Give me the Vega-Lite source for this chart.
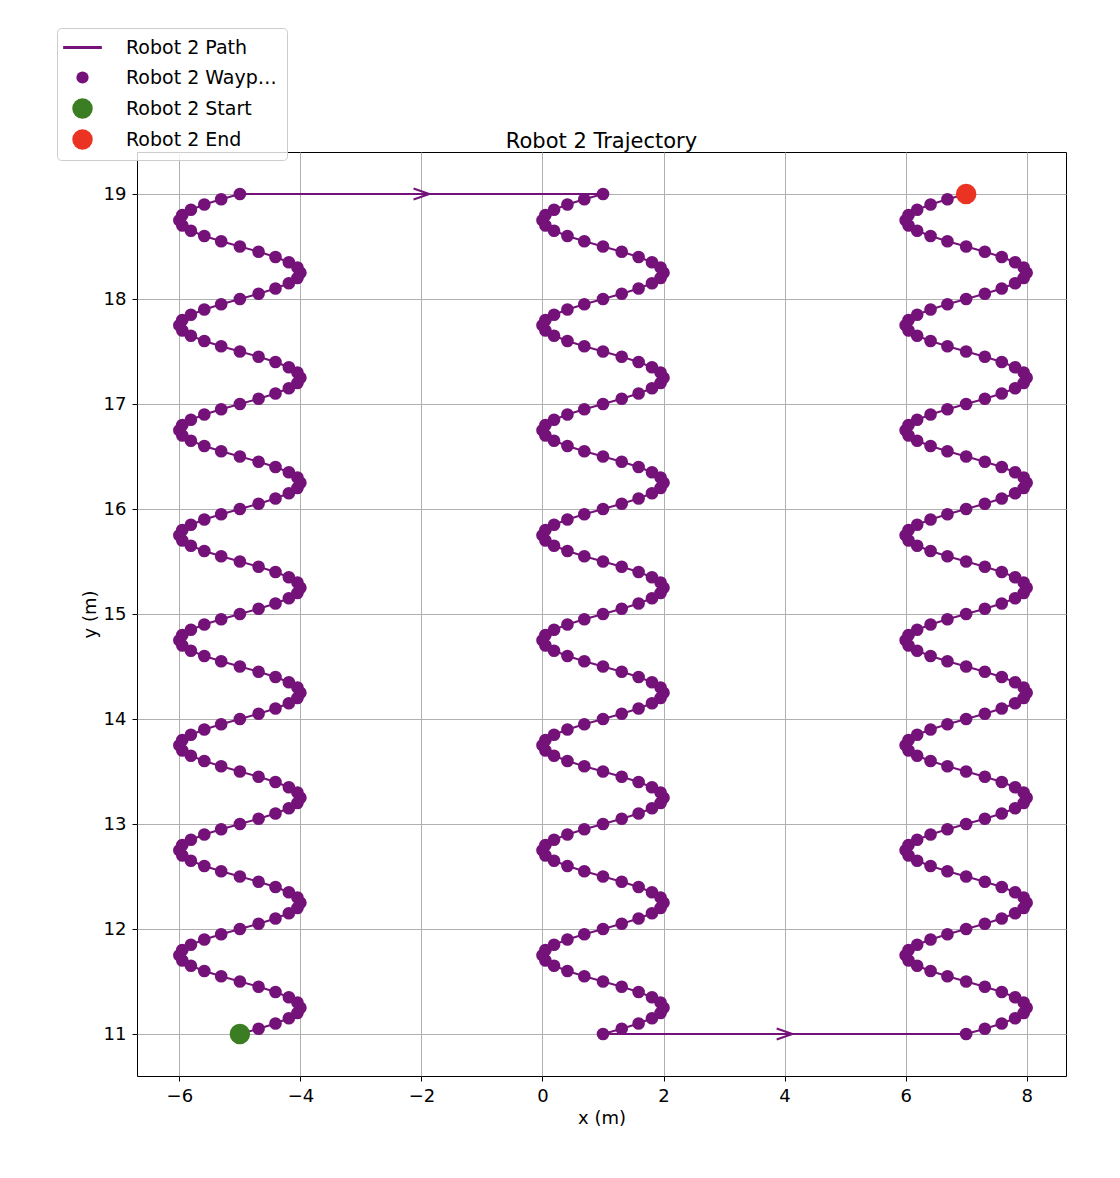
{
  "$schema": "https://vega.github.io/schema/vega-lite/v6.json",
  "width": 929,
  "height": 924,
  "autosize": "none",
  "padding": {"left": 137, "top": 152, "right": 54, "bottom": 102},
  "background": "white",
  "config": {
    "font": "DejaVu Sans",
    "view": {"stroke": "black", "strokeWidth": 1},
    "axis": {"labelFontSize": 18, "titleFontSize": 18, "labelColor": "black", "titleColor": "black", "titleFontWeight": "normal", "gridColor": "#b0b0b0", "gridWidth": 1, "tickColor": "black", "domain": false, "labelPadding": 6}
  },
  "title": {"text": "Robot 2 Trajectory", "fontSize": 21, "fontWeight": "normal", "color": "black", "dy": 128},
  "datasets": {
    "path": [
      {"c":1,"y":11,"x":-5},{"c":1,"y":11.05,"x":-4.691},{"c":1,"y":11.1,"x":-4.412},{"c":1,"y":11.15,"x":-4.191},{"c":1,"y":11.2,"x":-4.049},{"c":1,"y":11.25,"x":-4},{"c":1,"y":11.3,"x":-4.049},{"c":1,"y":11.35,"x":-4.191},{"c":1,"y":11.4,"x":-4.412},{"c":1,"y":11.45,"x":-4.691},{"c":1,"y":11.5,"x":-5},{"c":1,"y":11.55,"x":-5.309},{"c":1,"y":11.6,"x":-5.588},{"c":1,"y":11.65,"x":-5.809},{"c":1,"y":11.7,"x":-5.951},{"c":1,"y":11.75,"x":-6},{"c":1,"y":11.8,"x":-5.951},{"c":1,"y":11.85,"x":-5.809},{"c":1,"y":11.9,"x":-5.588},{"c":1,"y":11.95,"x":-5.309},
      {"c":1,"y":12,"x":-5},{"c":1,"y":12.05,"x":-4.691},{"c":1,"y":12.1,"x":-4.412},{"c":1,"y":12.15,"x":-4.191},{"c":1,"y":12.2,"x":-4.049},{"c":1,"y":12.25,"x":-4},{"c":1,"y":12.3,"x":-4.049},{"c":1,"y":12.35,"x":-4.191},{"c":1,"y":12.4,"x":-4.412},{"c":1,"y":12.45,"x":-4.691},{"c":1,"y":12.5,"x":-5},{"c":1,"y":12.55,"x":-5.309},{"c":1,"y":12.6,"x":-5.588},{"c":1,"y":12.65,"x":-5.809},{"c":1,"y":12.7,"x":-5.951},{"c":1,"y":12.75,"x":-6},{"c":1,"y":12.8,"x":-5.951},{"c":1,"y":12.85,"x":-5.809},{"c":1,"y":12.9,"x":-5.588},{"c":1,"y":12.95,"x":-5.309},
      {"c":1,"y":13,"x":-5},{"c":1,"y":13.05,"x":-4.691},{"c":1,"y":13.1,"x":-4.412},{"c":1,"y":13.15,"x":-4.191},{"c":1,"y":13.2,"x":-4.049},{"c":1,"y":13.25,"x":-4},{"c":1,"y":13.3,"x":-4.049},{"c":1,"y":13.35,"x":-4.191},{"c":1,"y":13.4,"x":-4.412},{"c":1,"y":13.45,"x":-4.691},{"c":1,"y":13.5,"x":-5},{"c":1,"y":13.55,"x":-5.309},{"c":1,"y":13.6,"x":-5.588},{"c":1,"y":13.65,"x":-5.809},{"c":1,"y":13.7,"x":-5.951},{"c":1,"y":13.75,"x":-6},{"c":1,"y":13.8,"x":-5.951},{"c":1,"y":13.85,"x":-5.809},{"c":1,"y":13.9,"x":-5.588},{"c":1,"y":13.95,"x":-5.309},
      {"c":1,"y":14,"x":-5},{"c":1,"y":14.05,"x":-4.691},{"c":1,"y":14.1,"x":-4.412},{"c":1,"y":14.15,"x":-4.191},{"c":1,"y":14.2,"x":-4.049},{"c":1,"y":14.25,"x":-4},{"c":1,"y":14.3,"x":-4.049},{"c":1,"y":14.35,"x":-4.191},{"c":1,"y":14.4,"x":-4.412},{"c":1,"y":14.45,"x":-4.691},{"c":1,"y":14.5,"x":-5},{"c":1,"y":14.55,"x":-5.309},{"c":1,"y":14.6,"x":-5.588},{"c":1,"y":14.65,"x":-5.809},{"c":1,"y":14.7,"x":-5.951},{"c":1,"y":14.75,"x":-6},{"c":1,"y":14.8,"x":-5.951},{"c":1,"y":14.85,"x":-5.809},{"c":1,"y":14.9,"x":-5.588},{"c":1,"y":14.95,"x":-5.309},
      {"c":1,"y":15,"x":-5},{"c":1,"y":15.05,"x":-4.691},{"c":1,"y":15.1,"x":-4.412},{"c":1,"y":15.15,"x":-4.191},{"c":1,"y":15.2,"x":-4.049},{"c":1,"y":15.25,"x":-4},{"c":1,"y":15.3,"x":-4.049},{"c":1,"y":15.35,"x":-4.191},{"c":1,"y":15.4,"x":-4.412},{"c":1,"y":15.45,"x":-4.691},{"c":1,"y":15.5,"x":-5},{"c":1,"y":15.55,"x":-5.309},{"c":1,"y":15.6,"x":-5.588},{"c":1,"y":15.65,"x":-5.809},{"c":1,"y":15.7,"x":-5.951},{"c":1,"y":15.75,"x":-6},{"c":1,"y":15.8,"x":-5.951},{"c":1,"y":15.85,"x":-5.809},{"c":1,"y":15.9,"x":-5.588},{"c":1,"y":15.95,"x":-5.309},
      {"c":1,"y":16,"x":-5},{"c":1,"y":16.05,"x":-4.691},{"c":1,"y":16.1,"x":-4.412},{"c":1,"y":16.15,"x":-4.191},{"c":1,"y":16.2,"x":-4.049},{"c":1,"y":16.25,"x":-4},{"c":1,"y":16.3,"x":-4.049},{"c":1,"y":16.35,"x":-4.191},{"c":1,"y":16.4,"x":-4.412},{"c":1,"y":16.45,"x":-4.691},{"c":1,"y":16.5,"x":-5},{"c":1,"y":16.55,"x":-5.309},{"c":1,"y":16.6,"x":-5.588},{"c":1,"y":16.65,"x":-5.809},{"c":1,"y":16.7,"x":-5.951},{"c":1,"y":16.75,"x":-6},{"c":1,"y":16.8,"x":-5.951},{"c":1,"y":16.85,"x":-5.809},{"c":1,"y":16.9,"x":-5.588},{"c":1,"y":16.95,"x":-5.309},
      {"c":1,"y":17,"x":-5},{"c":1,"y":17.05,"x":-4.691},{"c":1,"y":17.1,"x":-4.412},{"c":1,"y":17.15,"x":-4.191},{"c":1,"y":17.2,"x":-4.049},{"c":1,"y":17.25,"x":-4},{"c":1,"y":17.3,"x":-4.049},{"c":1,"y":17.35,"x":-4.191},{"c":1,"y":17.4,"x":-4.412},{"c":1,"y":17.45,"x":-4.691},{"c":1,"y":17.5,"x":-5},{"c":1,"y":17.55,"x":-5.309},{"c":1,"y":17.6,"x":-5.588},{"c":1,"y":17.65,"x":-5.809},{"c":1,"y":17.7,"x":-5.951},{"c":1,"y":17.75,"x":-6},{"c":1,"y":17.8,"x":-5.951},{"c":1,"y":17.85,"x":-5.809},{"c":1,"y":17.9,"x":-5.588},{"c":1,"y":17.95,"x":-5.309},
      {"c":1,"y":18,"x":-5},{"c":1,"y":18.05,"x":-4.691},{"c":1,"y":18.1,"x":-4.412},{"c":1,"y":18.15,"x":-4.191},{"c":1,"y":18.2,"x":-4.049},{"c":1,"y":18.25,"x":-4},{"c":1,"y":18.3,"x":-4.049},{"c":1,"y":18.35,"x":-4.191},{"c":1,"y":18.4,"x":-4.412},{"c":1,"y":18.45,"x":-4.691},{"c":1,"y":18.5,"x":-5},{"c":1,"y":18.55,"x":-5.309},{"c":1,"y":18.6,"x":-5.588},{"c":1,"y":18.65,"x":-5.809},{"c":1,"y":18.7,"x":-5.951},{"c":1,"y":18.75,"x":-6},{"c":1,"y":18.8,"x":-5.951},{"c":1,"y":18.85,"x":-5.809},{"c":1,"y":18.9,"x":-5.588},{"c":1,"y":18.95,"x":-5.309},
      {"c":1,"y":19,"x":-5},
      {"c":2,"y":11,"x":1},{"c":2,"y":11.05,"x":1.309},{"c":2,"y":11.1,"x":1.588},{"c":2,"y":11.15,"x":1.809},{"c":2,"y":11.2,"x":1.951},{"c":2,"y":11.25,"x":2},{"c":2,"y":11.3,"x":1.951},{"c":2,"y":11.35,"x":1.809},{"c":2,"y":11.4,"x":1.588},{"c":2,"y":11.45,"x":1.309},{"c":2,"y":11.5,"x":1},{"c":2,"y":11.55,"x":0.691},{"c":2,"y":11.6,"x":0.412},{"c":2,"y":11.65,"x":0.191},{"c":2,"y":11.7,"x":0.049},{"c":2,"y":11.75,"x":0},{"c":2,"y":11.8,"x":0.049},{"c":2,"y":11.85,"x":0.191},{"c":2,"y":11.9,"x":0.412},{"c":2,"y":11.95,"x":0.691},
      {"c":2,"y":12,"x":1},{"c":2,"y":12.05,"x":1.309},{"c":2,"y":12.1,"x":1.588},{"c":2,"y":12.15,"x":1.809},{"c":2,"y":12.2,"x":1.951},{"c":2,"y":12.25,"x":2},{"c":2,"y":12.3,"x":1.951},{"c":2,"y":12.35,"x":1.809},{"c":2,"y":12.4,"x":1.588},{"c":2,"y":12.45,"x":1.309},{"c":2,"y":12.5,"x":1},{"c":2,"y":12.55,"x":0.691},{"c":2,"y":12.6,"x":0.412},{"c":2,"y":12.65,"x":0.191},{"c":2,"y":12.7,"x":0.049},{"c":2,"y":12.75,"x":0},{"c":2,"y":12.8,"x":0.049},{"c":2,"y":12.85,"x":0.191},{"c":2,"y":12.9,"x":0.412},{"c":2,"y":12.95,"x":0.691},
      {"c":2,"y":13,"x":1},{"c":2,"y":13.05,"x":1.309},{"c":2,"y":13.1,"x":1.588},{"c":2,"y":13.15,"x":1.809},{"c":2,"y":13.2,"x":1.951},{"c":2,"y":13.25,"x":2},{"c":2,"y":13.3,"x":1.951},{"c":2,"y":13.35,"x":1.809},{"c":2,"y":13.4,"x":1.588},{"c":2,"y":13.45,"x":1.309},{"c":2,"y":13.5,"x":1},{"c":2,"y":13.55,"x":0.691},{"c":2,"y":13.6,"x":0.412},{"c":2,"y":13.65,"x":0.191},{"c":2,"y":13.7,"x":0.049},{"c":2,"y":13.75,"x":0},{"c":2,"y":13.8,"x":0.049},{"c":2,"y":13.85,"x":0.191},{"c":2,"y":13.9,"x":0.412},{"c":2,"y":13.95,"x":0.691},
      {"c":2,"y":14,"x":1},{"c":2,"y":14.05,"x":1.309},{"c":2,"y":14.1,"x":1.588},{"c":2,"y":14.15,"x":1.809},{"c":2,"y":14.2,"x":1.951},{"c":2,"y":14.25,"x":2},{"c":2,"y":14.3,"x":1.951},{"c":2,"y":14.35,"x":1.809},{"c":2,"y":14.4,"x":1.588},{"c":2,"y":14.45,"x":1.309},{"c":2,"y":14.5,"x":1},{"c":2,"y":14.55,"x":0.691},{"c":2,"y":14.6,"x":0.412},{"c":2,"y":14.65,"x":0.191},{"c":2,"y":14.7,"x":0.049},{"c":2,"y":14.75,"x":0},{"c":2,"y":14.8,"x":0.049},{"c":2,"y":14.85,"x":0.191},{"c":2,"y":14.9,"x":0.412},{"c":2,"y":14.95,"x":0.691},
      {"c":2,"y":15,"x":1},{"c":2,"y":15.05,"x":1.309},{"c":2,"y":15.1,"x":1.588},{"c":2,"y":15.15,"x":1.809},{"c":2,"y":15.2,"x":1.951},{"c":2,"y":15.25,"x":2},{"c":2,"y":15.3,"x":1.951},{"c":2,"y":15.35,"x":1.809},{"c":2,"y":15.4,"x":1.588},{"c":2,"y":15.45,"x":1.309},{"c":2,"y":15.5,"x":1},{"c":2,"y":15.55,"x":0.691},{"c":2,"y":15.6,"x":0.412},{"c":2,"y":15.65,"x":0.191},{"c":2,"y":15.7,"x":0.049},{"c":2,"y":15.75,"x":0},{"c":2,"y":15.8,"x":0.049},{"c":2,"y":15.85,"x":0.191},{"c":2,"y":15.9,"x":0.412},{"c":2,"y":15.95,"x":0.691},
      {"c":2,"y":16,"x":1},{"c":2,"y":16.05,"x":1.309},{"c":2,"y":16.1,"x":1.588},{"c":2,"y":16.15,"x":1.809},{"c":2,"y":16.2,"x":1.951},{"c":2,"y":16.25,"x":2},{"c":2,"y":16.3,"x":1.951},{"c":2,"y":16.35,"x":1.809},{"c":2,"y":16.4,"x":1.588},{"c":2,"y":16.45,"x":1.309},{"c":2,"y":16.5,"x":1},{"c":2,"y":16.55,"x":0.691},{"c":2,"y":16.6,"x":0.412},{"c":2,"y":16.65,"x":0.191},{"c":2,"y":16.7,"x":0.049},{"c":2,"y":16.75,"x":0},{"c":2,"y":16.8,"x":0.049},{"c":2,"y":16.85,"x":0.191},{"c":2,"y":16.9,"x":0.412},{"c":2,"y":16.95,"x":0.691},
      {"c":2,"y":17,"x":1},{"c":2,"y":17.05,"x":1.309},{"c":2,"y":17.1,"x":1.588},{"c":2,"y":17.15,"x":1.809},{"c":2,"y":17.2,"x":1.951},{"c":2,"y":17.25,"x":2},{"c":2,"y":17.3,"x":1.951},{"c":2,"y":17.35,"x":1.809},{"c":2,"y":17.4,"x":1.588},{"c":2,"y":17.45,"x":1.309},{"c":2,"y":17.5,"x":1},{"c":2,"y":17.55,"x":0.691},{"c":2,"y":17.6,"x":0.412},{"c":2,"y":17.65,"x":0.191},{"c":2,"y":17.7,"x":0.049},{"c":2,"y":17.75,"x":0},{"c":2,"y":17.8,"x":0.049},{"c":2,"y":17.85,"x":0.191},{"c":2,"y":17.9,"x":0.412},{"c":2,"y":17.95,"x":0.691},
      {"c":2,"y":18,"x":1},{"c":2,"y":18.05,"x":1.309},{"c":2,"y":18.1,"x":1.588},{"c":2,"y":18.15,"x":1.809},{"c":2,"y":18.2,"x":1.951},{"c":2,"y":18.25,"x":2},{"c":2,"y":18.3,"x":1.951},{"c":2,"y":18.35,"x":1.809},{"c":2,"y":18.4,"x":1.588},{"c":2,"y":18.45,"x":1.309},{"c":2,"y":18.5,"x":1},{"c":2,"y":18.55,"x":0.691},{"c":2,"y":18.6,"x":0.412},{"c":2,"y":18.65,"x":0.191},{"c":2,"y":18.7,"x":0.049},{"c":2,"y":18.75,"x":0},{"c":2,"y":18.8,"x":0.049},{"c":2,"y":18.85,"x":0.191},{"c":2,"y":18.9,"x":0.412},{"c":2,"y":18.95,"x":0.691},
      {"c":2,"y":19,"x":1},
      {"c":3,"y":11,"x":7},{"c":3,"y":11.05,"x":7.309},{"c":3,"y":11.1,"x":7.588},{"c":3,"y":11.15,"x":7.809},{"c":3,"y":11.2,"x":7.951},{"c":3,"y":11.25,"x":8},{"c":3,"y":11.3,"x":7.951},{"c":3,"y":11.35,"x":7.809},{"c":3,"y":11.4,"x":7.588},{"c":3,"y":11.45,"x":7.309},{"c":3,"y":11.5,"x":7},{"c":3,"y":11.55,"x":6.691},{"c":3,"y":11.6,"x":6.412},{"c":3,"y":11.65,"x":6.191},{"c":3,"y":11.7,"x":6.049},{"c":3,"y":11.75,"x":6},{"c":3,"y":11.8,"x":6.049},{"c":3,"y":11.85,"x":6.191},{"c":3,"y":11.9,"x":6.412},{"c":3,"y":11.95,"x":6.691},
      {"c":3,"y":12,"x":7},{"c":3,"y":12.05,"x":7.309},{"c":3,"y":12.1,"x":7.588},{"c":3,"y":12.15,"x":7.809},{"c":3,"y":12.2,"x":7.951},{"c":3,"y":12.25,"x":8},{"c":3,"y":12.3,"x":7.951},{"c":3,"y":12.35,"x":7.809},{"c":3,"y":12.4,"x":7.588},{"c":3,"y":12.45,"x":7.309},{"c":3,"y":12.5,"x":7},{"c":3,"y":12.55,"x":6.691},{"c":3,"y":12.6,"x":6.412},{"c":3,"y":12.65,"x":6.191},{"c":3,"y":12.7,"x":6.049},{"c":3,"y":12.75,"x":6},{"c":3,"y":12.8,"x":6.049},{"c":3,"y":12.85,"x":6.191},{"c":3,"y":12.9,"x":6.412},{"c":3,"y":12.95,"x":6.691},
      {"c":3,"y":13,"x":7},{"c":3,"y":13.05,"x":7.309},{"c":3,"y":13.1,"x":7.588},{"c":3,"y":13.15,"x":7.809},{"c":3,"y":13.2,"x":7.951},{"c":3,"y":13.25,"x":8},{"c":3,"y":13.3,"x":7.951},{"c":3,"y":13.35,"x":7.809},{"c":3,"y":13.4,"x":7.588},{"c":3,"y":13.45,"x":7.309},{"c":3,"y":13.5,"x":7},{"c":3,"y":13.55,"x":6.691},{"c":3,"y":13.6,"x":6.412},{"c":3,"y":13.65,"x":6.191},{"c":3,"y":13.7,"x":6.049},{"c":3,"y":13.75,"x":6},{"c":3,"y":13.8,"x":6.049},{"c":3,"y":13.85,"x":6.191},{"c":3,"y":13.9,"x":6.412},{"c":3,"y":13.95,"x":6.691},
      {"c":3,"y":14,"x":7},{"c":3,"y":14.05,"x":7.309},{"c":3,"y":14.1,"x":7.588},{"c":3,"y":14.15,"x":7.809},{"c":3,"y":14.2,"x":7.951},{"c":3,"y":14.25,"x":8},{"c":3,"y":14.3,"x":7.951},{"c":3,"y":14.35,"x":7.809},{"c":3,"y":14.4,"x":7.588},{"c":3,"y":14.45,"x":7.309},{"c":3,"y":14.5,"x":7},{"c":3,"y":14.55,"x":6.691},{"c":3,"y":14.6,"x":6.412},{"c":3,"y":14.65,"x":6.191},{"c":3,"y":14.7,"x":6.049},{"c":3,"y":14.75,"x":6},{"c":3,"y":14.8,"x":6.049},{"c":3,"y":14.85,"x":6.191},{"c":3,"y":14.9,"x":6.412},{"c":3,"y":14.95,"x":6.691},
      {"c":3,"y":15,"x":7},{"c":3,"y":15.05,"x":7.309},{"c":3,"y":15.1,"x":7.588},{"c":3,"y":15.15,"x":7.809},{"c":3,"y":15.2,"x":7.951},{"c":3,"y":15.25,"x":8},{"c":3,"y":15.3,"x":7.951},{"c":3,"y":15.35,"x":7.809},{"c":3,"y":15.4,"x":7.588},{"c":3,"y":15.45,"x":7.309},{"c":3,"y":15.5,"x":7},{"c":3,"y":15.55,"x":6.691},{"c":3,"y":15.6,"x":6.412},{"c":3,"y":15.65,"x":6.191},{"c":3,"y":15.7,"x":6.049},{"c":3,"y":15.75,"x":6},{"c":3,"y":15.8,"x":6.049},{"c":3,"y":15.85,"x":6.191},{"c":3,"y":15.9,"x":6.412},{"c":3,"y":15.95,"x":6.691},
      {"c":3,"y":16,"x":7},{"c":3,"y":16.05,"x":7.309},{"c":3,"y":16.1,"x":7.588},{"c":3,"y":16.15,"x":7.809},{"c":3,"y":16.2,"x":7.951},{"c":3,"y":16.25,"x":8},{"c":3,"y":16.3,"x":7.951},{"c":3,"y":16.35,"x":7.809},{"c":3,"y":16.4,"x":7.588},{"c":3,"y":16.45,"x":7.309},{"c":3,"y":16.5,"x":7},{"c":3,"y":16.55,"x":6.691},{"c":3,"y":16.6,"x":6.412},{"c":3,"y":16.65,"x":6.191},{"c":3,"y":16.7,"x":6.049},{"c":3,"y":16.75,"x":6},{"c":3,"y":16.8,"x":6.049},{"c":3,"y":16.85,"x":6.191},{"c":3,"y":16.9,"x":6.412},{"c":3,"y":16.95,"x":6.691},
      {"c":3,"y":17,"x":7},{"c":3,"y":17.05,"x":7.309},{"c":3,"y":17.1,"x":7.588},{"c":3,"y":17.15,"x":7.809},{"c":3,"y":17.2,"x":7.951},{"c":3,"y":17.25,"x":8},{"c":3,"y":17.3,"x":7.951},{"c":3,"y":17.35,"x":7.809},{"c":3,"y":17.4,"x":7.588},{"c":3,"y":17.45,"x":7.309},{"c":3,"y":17.5,"x":7},{"c":3,"y":17.55,"x":6.691},{"c":3,"y":17.6,"x":6.412},{"c":3,"y":17.65,"x":6.191},{"c":3,"y":17.7,"x":6.049},{"c":3,"y":17.75,"x":6},{"c":3,"y":17.8,"x":6.049},{"c":3,"y":17.85,"x":6.191},{"c":3,"y":17.9,"x":6.412},{"c":3,"y":17.95,"x":6.691},
      {"c":3,"y":18,"x":7},{"c":3,"y":18.05,"x":7.309},{"c":3,"y":18.1,"x":7.588},{"c":3,"y":18.15,"x":7.809},{"c":3,"y":18.2,"x":7.951},{"c":3,"y":18.25,"x":8},{"c":3,"y":18.3,"x":7.951},{"c":3,"y":18.35,"x":7.809},{"c":3,"y":18.4,"x":7.588},{"c":3,"y":18.45,"x":7.309},{"c":3,"y":18.5,"x":7},{"c":3,"y":18.55,"x":6.691},{"c":3,"y":18.6,"x":6.412},{"c":3,"y":18.65,"x":6.191},{"c":3,"y":18.7,"x":6.049},{"c":3,"y":18.75,"x":6},{"c":3,"y":18.8,"x":6.049},{"c":3,"y":18.85,"x":6.191},{"c":3,"y":18.9,"x":6.412},{"c":3,"y":18.95,"x":6.691},
      {"c":3,"y":19,"x":7}
    ],
    "links": [
      {"x":-5,"x2":1,"y":19,"mx":-2},
      {"x":1,"x2":7,"y":11,"mx":4}
    ],
    "ends": [
      {"label":"Robot 2 Start","x":-5,"y":11},
      {"label":"Robot 2 End","x":7,"y":19}
    ]
  },
  "layer": [
    {
      "data": {"name": "links"},
      "mark": {"type": "rule", "color": "#74127a", "strokeWidth": 2},
      "encoding": {
        "x": {"field": "x", "type": "quantitative"},
        "x2": {"field": "x2"},
        "y": {"field": "y", "type": "quantitative"}
      }
    },
    {
      "data": {"name": "links"},
      "mark": {"type": "point", "shape": "M-1,-0.7L1,0L-1,0.7", "filled": false, "stroke": "#74127a", "strokeWidth": 2, "size": 250, "opacity": 1},
      "encoding": {
        "x": {"field": "mx", "type": "quantitative"},
        "y": {"field": "y", "type": "quantitative"}
      }
    },
    {
      "data": {"name": "path"},
      "mark": {"type": "line", "strokeWidth": 2},
      "encoding": {
        "x": {"field": "x", "type": "quantitative", "scale": {"domain": [-6.7, 8.65], "nice": false, "zero": false}, "axis": {"values": [-6, -4, -2, 0, 2, 4, 6, 8], "format": "d", "title": "x (m)", "labelExpr": "replace(datum.label, '-', '−')"}},
        "y": {"field": "y", "type": "quantitative", "scale": {"domain": [10.6, 19.4], "nice": false, "zero": false}, "axis": {"values": [11, 12, 13, 14, 15, 16, 17, 18, 19], "format": "d", "title": "y (m)"}},
        "detail": {"field": "c"},
        "order": {"field": "y"},
        "color": {"datum": "Robot 2 Path", "type": "nominal", "title": null,
          "scale": {"domain": ["Robot 2 Path", "Robot 2 Waypoints", "Robot 2 Start", "Robot 2 End"], "range": ["#74127a", "#74127a", "#3a7d22", "#ea3323"]},
          "legend": {
            "title": null, "orient": "none", "legendX": -80, "legendY": -124,
            "labelFontSize": 19, "labelColor": "black", "rowPadding": 10, "symbolOffset": 6, "labelOffset": 34,
            "padding": 10, "fillColor": "rgba(255,255,255,0.8)", "strokeColor": "#cccccc", "cornerRadius": 4,
            "encode": {"symbols": {"update": {
              "shape": {"signal": "datum.value == 'Robot 2 Path' ? 'stroke' : 'circle'"},
              "size": {"signal": "datum.value == 'Robot 2 Path' ? 1500 : datum.value == 'Robot 2 Waypoints' ? 150 : 420"},
              "fill": {"scale": "color", "field": "value"},
              "stroke": {"scale": "color", "field": "value"},
              "strokeWidth": {"signal": "datum.value == 'Robot 2 Path' ? 3 : 0"},
              "opacity": {"value": 1}
            }}}
          }}
      }
    },
    {
      "data": {"name": "path"},
      "mark": {"type": "circle", "size": 160, "opacity": 1},
      "encoding": {
        "x": {"field": "x", "type": "quantitative"},
        "y": {"field": "y", "type": "quantitative"},
        "color": {"datum": "Robot 2 Waypoints", "type": "nominal", "title": null}
      }
    },
    {
      "data": {"name": "ends"},
      "mark": {"type": "circle", "size": 420, "opacity": 1},
      "encoding": {
        "x": {"field": "x", "type": "quantitative"},
        "y": {"field": "y", "type": "quantitative"},
        "color": {"field": "label", "type": "nominal", "title": null}
      }
    }
  ]
}
